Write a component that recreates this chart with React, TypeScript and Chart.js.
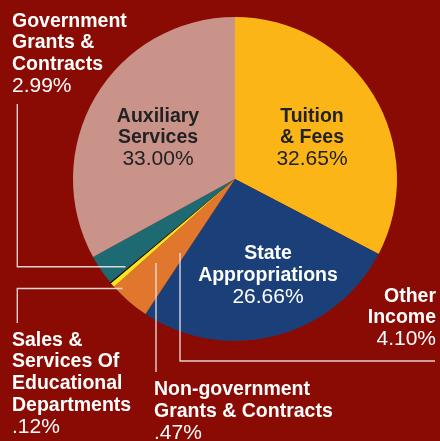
import { useEffect, useRef } from "react";
import { Chart, registerables } from "chart.js";

Chart.register(...registerables);

const categories = [
  "Tuition & Fees",
  "State Appropriations",
  "Other Income",
  "Non-government Grants & Contracts",
  "Sales & Services Of Educational Departments",
  "Government Grants & Contracts",
  "Auxiliary Services",
];
const shares = [32.65, 26.66, 4.1, 0.47, 0.12, 2.99, 33.0];
const percentLabels = ["32.65%", "26.66%", "4.10%", ".47%", ".12%", "2.99%", "33.00%"];
const labelLines = [
  ["Tuition", "& Fees"],
  ["State", "Appropriations"],
  ["Other", "Income"],
  ["Non-government", "Grants & Contracts"],
  ["Sales &", "Services Of", "Educational", "Departments"],
  ["Government", "Grants &", "Contracts"],
  ["Auxiliary", "Services"],
];

const BG = "#8A0B03";
const sliceColors = ["#FBB517", "#1B4079", "#E0772C", "#F6E51F", "#111111", "#1E6A73", "#C99389"];

// label layout (index into categories): x, first baseline, alignment, colour
const labelLayout = [
  { i: 0, x: 312, y: 121.5, align: "center", color: "#222222" },
  { i: 1, x: 268, y: 259, align: "center", color: "#FFFFFF" },
  { i: 2, x: 436, y: 301.5, align: "right", color: "#FFFFFF" },
  { i: 3, x: 154, y: 395, align: "left", color: "#FFFFFF" },
  { i: 4, x: 12, y: 345.5, align: "left", color: "#FFFFFF" },
  { i: 5, x: 12, y: 26.5, align: "left", color: "#FFFFFF" },
  { i: 6, x: 158, y: 121.5, align: "center", color: "#222222" },
];

const leaderLines: number[][][] = [
  [[125.5, 266.7], [17.3, 266.7], [17.3, 104]],
  [[122.5, 288.5], [17.3, 288.5], [17.3, 323]],
  [[156, 263], [156, 372]],
  [[180, 253], [180, 361], [435, 361]],
];

const LINE_H = 21.8;

const annotationPlugin = {
  id: "annotations",
  afterDraw(chart: Chart) {
    const ctx = chart.ctx;
    ctx.save();
    ctx.strokeStyle = "rgba(240,232,232,0.9)";
    ctx.lineWidth = 1.4;
    for (const pl of leaderLines) {
      ctx.beginPath();
      pl.forEach(([x, y], k) => (k === 0 ? ctx.moveTo(x, y) : ctx.lineTo(x, y)));
      ctx.stroke();
    }
    ctx.textBaseline = "alphabetic";
    for (const l of labelLayout) {
      ctx.fillStyle = l.color;
      ctx.textAlign = l.align as CanvasTextAlign;
      const lines = labelLines[l.i];
      ctx.font = 'bold 19.5px "Liberation Sans", Arial, sans-serif';
      lines.forEach((t, k) => ctx.fillText(t, l.x, l.y + k * LINE_H));
      ctx.font = '21px "Liberation Sans", Arial, sans-serif';
      ctx.fillText(percentLabels[l.i], l.x, l.y + lines.length * LINE_H);
    }
    ctx.restore();
  },
};

export default function App() {
  const ref = useRef<HTMLCanvasElement>(null);
  useEffect(() => {
    if (!ref.current) return;
    const chart = new Chart(ref.current, {
      type: "pie",
      data: {
        labels: categories,
        datasets: [
          {
            data: shares,
            backgroundColor: sliceColors,
            borderWidth: 0,
          },
        ],
      },
      options: {
        responsive: false,
        animation: false,
        devicePixelRatio: 1,
        layout: { padding: { left: 73, right: 43, top: 17, bottom: 100 } },
        plugins: {
          legend: { display: false },
          tooltip: { enabled: false },
        },
      },
      plugins: [annotationPlugin],
    });
    return () => chart.destroy();
  }, []);
  return (
    <div style={{ position: "absolute", left: 0, top: 0, width: 440, height: 441, background: BG }}>
      <canvas ref={ref} width={440} height={441} style={{ display: "block" }} />
    </div>
  );
}
